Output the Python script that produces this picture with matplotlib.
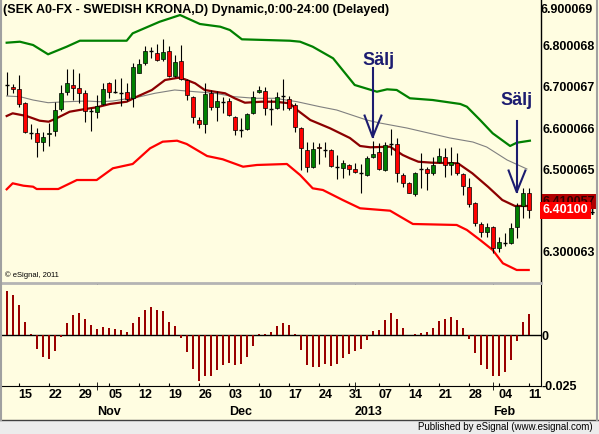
import numpy as np
import pandas as pd
from matplotlib import pyplot as plt
from matplotlib.axes import Axes
from matplotlib.lines import Line2D
from matplotlib.patches import Rectangle

plt.rcParams['font.family'] = ['Liberation Sans', 'DejaVu Sans']

# ---- data (SEK daily, 2012-10-11 .. 2013-02-11) ----
dates = pd.bdate_range('2012-10-11', '2013-02-11')

opens = [6.7044, 6.6987, 6.6939, 6.6600, 6.5889, 6.5873, 6.5672, 6.5849, 6.5930, 6.6454,
         6.6866, 6.7036, 6.6963, 6.6842, 6.6414, 6.6382, 6.6584, 6.7084, 6.6882, 6.6858,
         6.6882, 6.6721, 6.7342, 6.7568, 6.7867, 6.7810, 6.7665, 6.7875, 6.7261, 6.7633,
         6.7165, 6.6761, 6.6196, 6.6099, 6.6858, 6.6503, 6.6640, 6.6656, 6.6277, 6.5954,
         6.5970, 6.6358, 6.6866, 6.6898, 6.6463, 6.6479, 6.6785, 6.6712, 6.6559, 6.5994,
         6.5470, 6.5050, 6.5550, 6.5470, 6.5470, 6.5050, 6.5026, 6.5107, 6.5002, 6.4905,
         6.4856, 6.5292, 6.5413, 6.4986, 6.5615, 6.5615, 6.4864, 6.4663, 6.4404, 6.5002,
         6.5002, 6.4905, 6.5187, 6.5292, 6.5107, 6.5163, 6.4881, 6.4582, 6.4178, 6.3678,
         6.3492, 6.3613, 6.3089, 6.3226, 6.3210, 6.3613, 6.4114, 6.4420]
highs = [6.7366, 6.7068, 6.7286, 6.6640, 6.6091, 6.5994, 6.5914, 6.6115, 6.6640, 6.7044,
         6.7423, 6.7423, 6.7326, 6.6923, 6.6479, 6.6801, 6.7084, 6.7124, 6.7181, 6.7205,
         6.7084, 6.7568, 6.7665, 6.7988, 6.7972, 6.8036, 6.8149, 6.7988, 6.7770, 6.8012,
         6.7181, 6.6777, 6.6261, 6.7084, 6.6923, 6.6898, 6.6761, 6.6721, 6.6293, 6.6237,
         6.6358, 6.6906, 6.7019, 6.7003, 6.6697, 6.6882, 6.7189, 6.6777, 6.6600, 6.6019,
         6.5672, 6.5672, 6.5631, 6.5672, 6.5486, 6.5349, 6.5228, 6.5131, 6.5163, 6.5131,
         6.5324, 6.5696, 6.5631, 6.5672, 6.5970, 6.5752, 6.4905, 6.4703, 6.4945, 6.5389,
         6.5066, 6.5308, 6.5510, 6.5510, 6.5550, 6.5389, 6.4905, 6.4784, 6.4219, 6.3734,
         6.3694, 6.3630, 6.3355, 6.3468, 6.3694, 6.4178, 6.4542, 6.4542]
lows = [6.6801, 6.6842, 6.6519, 6.5890, 6.5728, 6.5292, 6.5454, 6.5567, 6.5809, 6.6422,
        6.6801, 6.6680, 6.6600, 6.6156, 6.5938, 6.6237, 6.6559, 6.6721, 6.6842, 6.6535,
        6.6664, 6.6519, 6.7326, 6.7536, 6.7689, 6.7633, 6.7633, 6.7245, 6.7245, 6.7165,
        6.6680, 6.6115, 6.5994, 6.5889, 6.6438, 6.6180, 6.6358, 6.6293, 6.5833, 6.5793,
        6.5954, 6.6341, 6.6842, 6.6317, 6.6075, 6.6454, 6.6450, 6.6438, 6.5914, 6.4986,
        6.4945, 6.5026, 6.5131, 6.5308, 6.5050, 6.4759, 6.4784, 6.4864, 6.4921, 6.4421,
        6.4840, 6.5268, 6.4986, 6.4969, 6.5349, 6.4703, 6.4582, 6.4420, 6.4356, 6.4542,
        6.4501, 6.4864, 6.5147, 6.4808, 6.4864, 6.4864, 6.4380, 6.4098, 6.3630, 6.3371,
        6.3355, 6.2968, 6.3008, 6.3145, 6.3186, 6.3331, 6.3815, 6.3815]
closes = [6.7044, 6.6939, 6.6584, 6.5898, 6.5889, 6.5672, 6.5777, 6.5889, 6.6438, 6.6842,
          6.7084, 6.6963, 6.6842, 6.6414, 6.6414, 6.6535, 6.6939, 6.6882, 6.6882, 6.6858,
          6.6697, 6.7471, 6.7552, 6.7875, 6.7867, 6.7649, 6.7851, 6.7261, 6.7609, 6.7181,
          6.6801, 6.6261, 6.6099, 6.6826, 6.6503, 6.6656, 6.6640, 6.6317, 6.5954, 6.5954,
          6.6333, 6.6761, 6.6923, 6.6479, 6.6463, 6.6761, 6.6785, 6.6487, 6.6035, 6.5510,
          6.5050, 6.5486, 6.5510, 6.5470, 6.5082, 6.5050, 6.5147, 6.5002, 6.4937, 6.4905,
          6.5284, 6.5365, 6.5002, 6.5591, 6.5615, 6.4905, 6.4663, 6.4437, 6.4921, 6.5002,
          6.4921, 6.5107, 6.5325, 6.5107, 6.5171, 6.4905, 6.4598, 6.4162, 6.3694, 6.3476,
          6.3597, 6.3089, 6.3234, 6.3226, 6.3573, 6.4114, 6.4420, 6.4010]

# lower panel histogram
osc = [0.0220, 0.0200, 0.0151, 0.0066, 0.0007, -0.0066, -0.0106, -0.0116, -0.0076, -0.0008,
       0.0061, 0.0101, 0.0111, 0.0081, 0.0051, 0.0031, 0.0041, 0.0036, 0.0031, 0.0026,
       0.0017, 0.0061, 0.0091, 0.0126, 0.0141, 0.0126, 0.0121, 0.0066, 0.0046, -0.0012,
       -0.0081, -0.0166, -0.0225, -0.0200, -0.0200, -0.0171, -0.0146, -0.0136, -0.0146, -0.0141,
       -0.0106, -0.0051, 0.0007, 0.0007, 0.0017, 0.0046, 0.0061, 0.0051, 0.0007, -0.0071,
       -0.0146, -0.0156, -0.0156, -0.0141, -0.0151, -0.0141, -0.0111, -0.0091, -0.0076, -0.0066,
       -0.0022, 0.0022, 0.0026, 0.0076, 0.0111, 0.0081, 0.0036, 0.0001, 0.0005, 0.0012,
       0.0017, 0.0036, 0.0071, 0.0081, 0.0091, 0.0076, 0.0036, -0.0017, -0.0086, -0.0146,
       -0.0166, -0.0200, -0.0200, -0.0180, -0.0121, -0.0026, 0.0066, 0.0106]

# overlay studies, sampled at bar positions
green_idx = [0, 2.2, 4.4, 6.9, 10, 12.2, 20, 21, 25.5, 28.9, 32.2, 35.6, 37.2, 39.2, 47.2, 48.9,
             51, 54.4, 58, 61.7, 63.4, 65, 67.2, 71, 75.6, 76.7, 78.9, 81, 83.9, 85, 87.2]
green_val = [6.8068, 6.8092, 6.8012, 6.7787, 6.7971, 6.8116, 6.8116, 6.8295, 6.8576, 6.8738,
             6.8521, 6.8455, 6.8375, 6.8150, 6.8116, 6.8092, 6.7971, 6.7690, 6.7044, 6.6881,
             6.6939, 6.6923, 6.6722, 6.6680, 6.6584, 6.6518, 6.6196, 6.5874, 6.5567, 6.5646, 6.5695]
red_idx = [0, 1, 2.8, 4.4, 5, 8.6, 11.7, 15, 17.7, 21, 23.9, 26, 28.4, 30, 33.4, 36, 39.4,
           41.7, 46.7, 48.9, 51, 52.7, 56, 58.9, 63.9, 65.6, 67.7, 75, 76.7, 78.9, 81, 82.7, 85, 87]
red_val = [6.4518, 6.4663, 6.4605, 6.4581, 6.4525, 6.4525, 6.4743, 6.4743, 6.5027, 6.5131,
           6.5511, 6.5671, 6.5695, 6.5615, 6.5324, 6.5245, 6.5065, 6.5107, 6.5131, 6.4864,
           6.4542, 6.4501, 6.4259, 6.4058, 6.4000, 6.3855, 6.3678, 6.3654, 6.3533, 6.3291,
           6.3048, 6.2726, 6.2564, 6.2564]
maroon_idx = [0, 1, 3.3, 5.5, 7, 8.3, 10.5, 12.8, 15, 17.2, 20, 21.7, 24.2, 26.4, 28.6, 29.7,
              31.4, 33, 34.7, 36.4, 38, 39.7, 42.5, 44.7, 47.2, 48.4, 50.6, 53.9, 57.2, 58.9,
              60.6, 63.9, 66, 67.2, 68.6, 70.9, 75.2, 77.6, 80.2, 82.6, 84.7, 87]
maroon_val = [6.6293, 6.6358, 6.6293, 6.6179, 6.6155, 6.6237, 6.6397, 6.6455, 6.6504, 6.6584,
              6.6639, 6.6760, 6.6923, 6.7165, 6.7220, 6.7182, 6.7085, 6.6923, 6.6881, 6.6843,
              6.6722, 6.6615, 6.6639, 6.6639, 6.6600, 6.6438, 6.6196, 6.5995, 6.5760, 6.5567,
              6.5535, 6.5550, 6.5349, 6.5269, 6.5186, 6.5162, 6.5148, 6.4906, 6.4581, 6.4259,
              6.4114, 6.4114]
gray_idx = [0, 2.2, 4.4, 6.9, 10, 13.3, 15.5, 17.7, 20.5, 22.2, 24.7, 28, 31.4, 34.7, 38, 41.4,
            44.7, 48.4, 52.2, 55, 60, 62.2, 66.7, 73.9, 77.7, 80, 83.4, 86.7]
gray_val = [6.6777, 6.6761, 6.6680, 6.6615, 6.6639, 6.6656, 6.6639, 6.6656, 6.6722, 6.6760,
            6.6843, 6.6923, 6.6881, 6.6843, 6.6760, 6.6722, 6.6722, 6.6639, 6.6518, 6.6438,
            6.6196, 6.6123, 6.6002, 6.5760, 6.5663, 6.5542, 6.5228, 6.5010]

# "Sälj" signals: bar, arrow top, arrow tip, text position
signal_idx = [61, 85]
signal_top = [6.7455, 6.6172]
signal_tip = [6.5784, 6.4453]
signal_text_x = [61.9, 84.9]
signal_text_y = [6.7649, 6.6680]

price_ticks = [6.800068, 6.700067, 6.600066, 6.500065, 6.400064, 6.300063]
top_tick = 6.900069
last_price = 6.40100
ma_last = 6.410057

BG = '#fffde1'
NAVY = '#1c1c70'
W, H = 599, 434


def fx(px):
    return px / W


def fy(px):
    # pixel from the top -> figure fraction
    return 1 - px / H


fig = plt.figure(figsize=(W / 100, H / 100), dpi=100, facecolor=BG)

ax: Axes = fig.add_axes((fx(2), fy(283), fx(538.7), 283 / H), facecolor=BG)
ax2: Axes = fig.add_axes((fx(2), fy(386), fx(538.7), 101 / H), facecolor=BG, sharex=ax)

n = len(dates)
idx = np.arange(n)
o, h, l, c = map(np.array, (opens, highs, lows, closes))

# studies
ax.plot(green_idx, green_val, color='#008000', lw=1.6, zorder=2)
ax.plot(red_idx, red_val, color='#ff0000', lw=1.6, zorder=2)
ax.plot(gray_idx, gray_val, color='#808080', lw=0.8, zorder=2)
ax.plot(maroon_idx, maroon_val, color='#8b0000', lw=1.6, zorder=2)

# candles
ax.vlines(idx, l, h, color='black', lw=0.8, zorder=3)
doji = np.isclose(o, c)
body_col = np.where(c >= o, '#008000', '#ff0000')
bodies = ~doji
ax.bar(idx[bodies], np.abs(c - o)[bodies], bottom=np.minimum(o, c)[bodies], width=0.67,
       color=body_col[bodies], edgecolor='black', linewidth=0.5, zorder=4)
ax.hlines(c[doji], idx[doji] - 0.36, idx[doji] + 0.36, color='black', lw=1.0, zorder=4)

# sell arrows
for xi, top, tip, tx, ty in zip(signal_idx, signal_top, signal_tip, signal_text_x, signal_text_y):
    ax.plot([xi, xi], [top, tip], color=NAVY, lw=1.5, zorder=5)
    ax.plot([xi - 1.35, xi, xi + 1.45], [tip + 0.052, tip, tip + 0.052], color=NAVY, lw=1.5, zorder=5)
    ax.text(tx, ty, 'Sälj', color=NAVY, fontsize=13, fontweight='bold', ha='center', va='center', zorder=6)

ax.set_xlim(-0.78, 89.0)
ax.set_ylim(6.2249, 6.9102)
ax.yaxis.tick_right()
ax.set_yticks(price_ticks)
ax.set_yticklabels([f'{v:.6f}' for v in price_ticks], fontsize=9, fontweight='bold')
ax.tick_params(axis='y', length=0, pad=1.5)
ax.tick_params(axis='x', bottom=False, labelbottom=False)
ax.text(1.0, top_tick, f'{top_tick:.6f}', transform=ax.get_yaxis_transform(), fontsize=9,
        fontweight='bold', ha='left', va='top', clip_on=False)
ax.text(1.0 + 1.5 / 538.7, top_tick, '', transform=ax.get_yaxis_transform())

# last value boxes on the price scale
ax.annotate(f'{ma_last:.6f}', xy=(1.0, ma_last + 0.012), xycoords=('axes fraction', 'data'),
            xytext=(1.5, 0), textcoords='offset points', ha='left', va='center', fontsize=9,
            fontweight='bold', color='#300000',
            bbox=dict(boxstyle='square,pad=0.1', fc='#b00000', ec='none'), annotation_clip=False, zorder=7)
ax.annotate(f'{last_price:.5f}', xy=(1.0, last_price), xycoords=('axes fraction', 'data'),
            xytext=(1.5, 0), textcoords='offset points', ha='left', va='center', fontsize=9,
            fontweight='bold', color='white',
            bbox=dict(boxstyle='square,pad=0.2', fc='#ff0000', ec='none'), annotation_clip=False, zorder=8)

ax.text(3 / 538.7, 0.027, '\u00a9 eSignal, 2011', transform=ax.transAxes, fontsize=5.5, va='center')

for side in ('top', 'left'):
    ax.spines[side].set_visible(False)
ax.spines['bottom'].set_color('#b4b4b4')
ax.spines['bottom'].set_linewidth(2)
ax.spines['right'].set_color('black')
ax.spines['right'].set_linewidth(1)

# lower histogram panel
ax2.bar(idx, osc, width=0.35, color='#990000', zorder=3)
ax2.axhline(0, color='black', lw=1, zorder=2)
ax2.set_ylim(-0.02515, 0.02495)
ax2.yaxis.tick_right()
ax2.set_yticks([0, -0.025])
ax2.set_yticklabels(['0', '-0.025'], fontsize=9, fontweight='bold')
ax2.tick_params(axis='y', length=0, pad=0.5)
for side in ('top', 'left'):
    ax2.spines[side].set_visible(False)

mondays = [i for i, d in enumerate(dates) if d.weekday() == 0]
ax2.set_xticks(mondays)
ax2.set_xticklabels([dates[i].strftime('%d') for i in mondays], fontsize=9, fontweight='bold')
for lbl in ax2.get_xticklabels():
    lbl.set_ha('left')
ax2.tick_params(axis='x', direction='in', length=2.5, pad=2.5)

month_starts = [i for i in range(1, n) if dates[i].month != dates[i - 1].month]
ax2.set_xticks(month_starts, minor=True)
ax2.tick_params(axis='x', which='minor', direction='inout', length=6)
for i in month_starts:
    name = dates[i].strftime('%Y') if dates[i].month == 1 else dates[i].strftime('%b')
    ax2.annotate(name, xy=(i, 0), xycoords=('data', 'axes fraction'), xytext=(0, -18.5),
                 textcoords='offset points', ha='left', va='center', fontsize=9, fontweight='bold')

# frame, borders and footer strip
fig.patches.append(Rectangle((0, 0), 1, 14 / H, transform=fig.transFigure, fc='#ececec', ec='none'))
fig.lines.append(Line2D([0, 1], [14 / H, 14 / H], transform=fig.transFigure, color='#404040', lw=1))
fig.lines.append(Line2D([fx(1), fx(1)], [14 / H, 1], transform=fig.transFigure, color='#a0a0a0', lw=1.5))
fig.lines.append(Line2D([fx(597), fx(597)], [14 / H, 1], transform=fig.transFigure, color='#a0a0a0', lw=1.5))
fig.text(fx(593), fy(427), 'Published by eSignal (www.esignal.com)', fontsize=7, ha='right', va='center')

fig.text(fx(3), fy(10), '(SEK A0-FX - SWEDISH KRONA,D) Dynamic,0:00-24:00 (Delayed)',
         fontsize=9, fontweight='bold', va='center')

fig.savefig('out.png', dpi=100, facecolor=BG)
